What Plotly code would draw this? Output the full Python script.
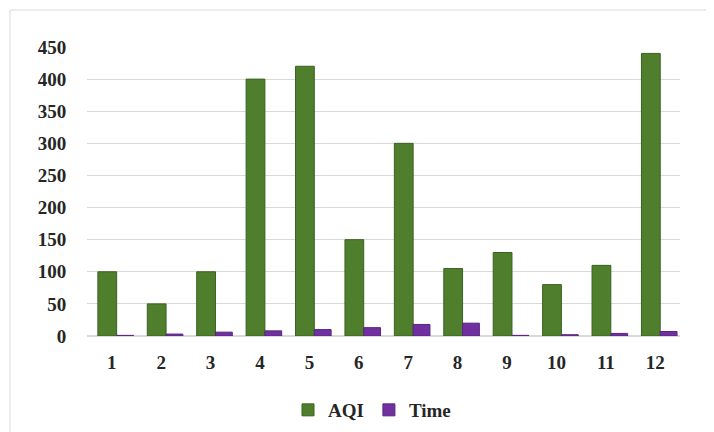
import plotly.graph_objects as go

categories = ["1", "2", "3", "4", "5", "6", "7", "8", "9", "10", "11", "12"]
aqi = [100, 50, 100, 400, 420, 150, 300, 105, 130, 80, 110, 440]
time_vals = [1, 3, 6, 8, 10, 13, 18, 20, 1, 2, 4, 7]
y_ticks = [0, 50, 100, 150, 200, 250, 300, 350, 400, 450]

fnt = "Liberation Serif"
W, H = 714, 432
OFF = 8  # page body margin offset
# target screen positions of plot area
left_s, right_s, top_s, bottom_s = 87, 680, 47, 336
ml, mt = left_s - OFF, top_s - OFF
mr = W - (right_s - OFF)
mb = H - (bottom_s - OFF)
pw, ph = W - ml - mr, H - mt - mb


def px_x(p):
    return (p - OFF - ml) / pw


def px_y(p):
    return (H - mb - (p - OFF)) / ph


fig = go.Figure()
fig.add_trace(go.Bar(x=categories, y=aqi, name="<b>AQI</b>",
                     offset=-0.28, width=0.38,
                     marker=dict(color="#4F7F2C", line=dict(color="#3A6220", width=1))))
fig.add_trace(go.Bar(x=categories, y=time_vals, name="<b>Time</b>",
                     offset=0.10, width=0.34,
                     marker=dict(color="#7030A0", line=dict(color="#5A2580", width=1))))

fig.update_layout(
    width=W, height=H,
    margin=dict(l=ml, r=mr, t=mt, b=mb, autoexpand=False),
    paper_bgcolor="white", plot_bgcolor="white",
    barmode="group",
    font=dict(family=fnt, size=18, color="#262626"),
    showlegend=True,
    legend=dict(orientation="h", x=px_x(372), xanchor="center",
                y=px_y(410), yanchor="middle",
                bgcolor="rgba(0,0,0,0)",
                font=dict(family=fnt, size=19, color="#262626"),
                itemwidth=30, tracegroupgap=0),
    xaxis=dict(tickmode="array", tickvals=categories,
               ticktext=[f"<b>{c}</b>" for c in categories],
               showgrid=False, showline=False, automargin=False,
               ticks="outside", ticklen=9, tickcolor="rgba(0,0,0,0)",
               tickfont=dict(family=fnt, size=19, color="#262626")),
    yaxis=dict(range=[0, 450], tickmode="array", tickvals=y_ticks,
               ticktext=[f"<b>{v}</b>" for v in y_ticks],
               showgrid=True, gridcolor="#D9D9D9", gridwidth=1,
               zeroline=True, zerolinecolor="#D9D9D9", showline=False,
               ticks="outside", ticklen=16, tickcolor="rgba(0,0,0,0)",
               automargin=False,
               tickfont=dict(family=fnt, size=19, color="#262626")),
    shapes=[dict(type="rect", xref="paper", yref="paper",
                 x0=px_x(10), x1=px_x(740), y0=px_y(445), y1=px_y(10),
                 line=dict(color="#D9D9D9", width=1), fillcolor="rgba(0,0,0,0)",
                 layer="below")],
)

fig.write_html("out.html")
